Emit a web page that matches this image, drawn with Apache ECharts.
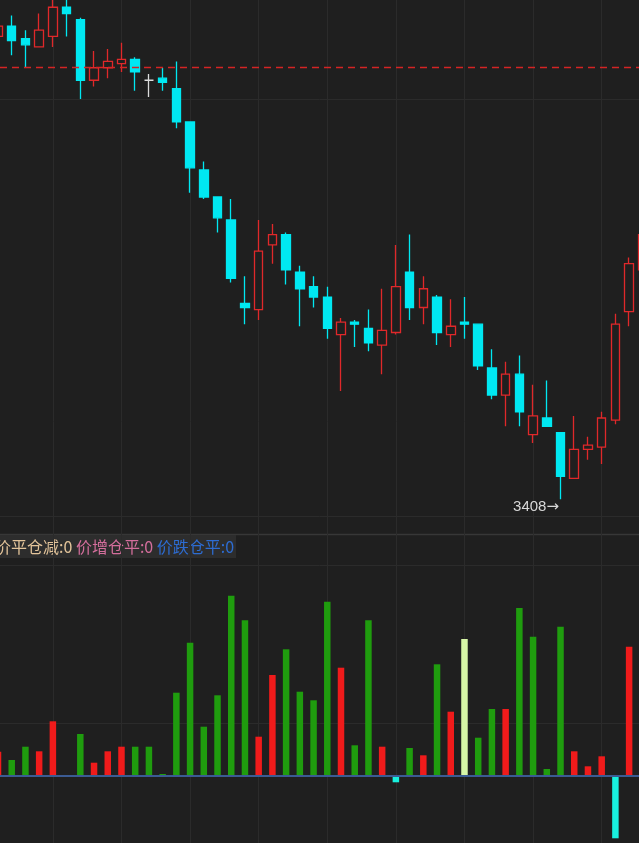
<!DOCTYPE html>
<html>
<head>
<meta charset="utf-8">
<script src="https://cdn.jsdelivr.net/npm/echarts@6/dist/echarts.min.js"></script>
<style>
html,body{margin:0;padding:0;background:#1f1f1f;}
#main{width:639px;height:843px;}
</style>
</head>
<body>
<div id="main"></div>
<script>
const categories = ['1','2','3','4','5','6','7','8','9','10','11','12','13','14','15','16','17','18','19','20','21','22','23','24','25','26','27','28','29','30','31','32','33','34','35','36','37','38','39','40','41','42','43','44','45','46','47','48'];
const opens  = [3630,3635,3629,3625,3630,3644,3638,3609,3615,3617,3619,3609,3610,3605,3589,3566,3553,3542,3502,3499,3530,3535,3517,3510,3505,3487,3493,3490,3482,3488,3517,3500,3505,3487,3493,3492,3471,3458,3468,3439,3447,3440,3418,3432,3433,3446,3498,3518];
const closes = [3635,3628,3626,3633,3644,3641,3609,3615,3618,3619,3613,3609,3608,3589,3567,3553,3543,3514,3500,3527,3535,3518,3509,3505,3490,3493,3492,3483,3489,3510,3500,3509,3488,3491,3492,3472,3458,3468,3450,3448,3443,3419,3432,3434,3447,3492,3521,3535];
const lows   = [3628,3621,3615,3625,3625,3630,3600,3606,3610,3613,3604,3601,3604,3586,3555,3552,3536,3512,3492,3494,3521,3511,3491,3500,3485,3460,3481,3479,3468,3487,3494,3492,3482,3481,3485,3470,3456,3443,3443,3435,3443,3408,3418,3427,3425,3444,3491,3512];
const highs  = [3638,3640,3633,3641,3650,3652,3639,3623,3624,3627,3620,3612,3615,3618,3589,3570,3553,3552,3515,3542,3540,3536,3520,3515,3510,3495,3494,3499,3509,3530,3535,3515,3506,3504,3505,3492,3480,3474,3477,3463,3465,3440,3448,3438,3450,3497,3524,3540];
const refPrice = 3615;
const oiValues = [243,160,293,247,547,0,420,133,247,293,293,293,20,833,1333,493,807,1803,1557,393,1010,1267,843,757,1743,1083,307,1557,293,-63,280,207,1117,643,1370,383,670,670,1680,1393,70,1493,247,97,197,-623,1293,0];
const oiColorKeys = ['r','g','g','r','r','g','g','r','r','r','g','g','g','g','g','g','g','g','g','r','r','g','g','g','g','r','g','g','r','c','g','r','g','r','y','g','g','r','g','g','g','g','r','r','r','c','r','r'];
const legendTexts = ['价平仓减:0','价增仓平:0','价跌仓平:0'];

// visible window of the index axis (view layout, not data)
const xMin = 1.146, xMax = 47.72;
const vLineFirst = 5, vLineLast = 45, vLineStep = 5;

const W = 639, H = 843;
const BG = '#1f1f1f';
const UP = '#e0282a';
const DOWN = '#00e8f2';
const DOJI = '#dcdcdc';
const REFLINE = '#d42424';
const barPalette = {r:'#f01b1b', g:'#1f9c0e', y:'#d6f5a6', c:'#18f0de'};
const GRIDLINE = '#2b2b2b';

const xs = categories.map(Number);
const candleData = opens.map((o, i) => {
  const item = {value: [xs[i], o, closes[i], lows[i], highs[i]]};
  if (o === closes[i]) {
    item.itemStyle = {color: DOJI, color0: DOJI, borderColor: DOJI, borderColor0: DOJI};
  }
  return item;
});
const minLow = Math.min(...lows);
const minIdx = lows.indexOf(minLow);
const barData = oiValues.map((v, i) => ({value: [xs[i], v], itemStyle: {color: barPalette[oiColorKeys[i]]}}));

const pxPerUnit = W / (xMax - xMin);
const vLeft = (vLineFirst - xMin) * pxPerUnit;
const vRight = W - (vLineLast - xMin) * pxPerUnit;

const hidden = {axisLine: {show: false}, axisTick: {show: false}, axisLabel: {show: false}, splitLine: {show: false}};

const chart = echarts.init(document.getElementById('main'), null, {renderer: 'canvas'});
chart.setOption({
  backgroundColor: BG,
  animation: false,
  grid: [
    {left: 0, right: 0, top: 0, bottom: 327},            // price
    {left: 0, right: 0, top: 565, bottom: 0},            // open-interest bars
    {left: vLeft, right: vRight, top: 0, bottom: 0},     // vertical grid lines
    {left: 0, right: 0, top: 99, bottom: 327},           // price horizontal grid lines
    {left: 0, right: 0, top: 565, bottom: 120}           // lower panel horizontal grid lines
  ],
  xAxis: [
    Object.assign({type: 'value', gridIndex: 0, min: xMin, max: xMax}, hidden),
    Object.assign({type: 'value', gridIndex: 1, min: xMin, max: xMax}, hidden),
    {type: 'value', gridIndex: 2, min: vLineFirst, max: vLineLast, interval: vLineStep,
     axisLine: {show: false}, axisTick: {show: false}, axisLabel: {show: false},
     splitLine: {show: true, lineStyle: {color: GRIDLINE, width: 1}}},
    Object.assign({type: 'value', gridIndex: 3, min: 0, max: 1}, hidden),
    Object.assign({type: 'value', gridIndex: 4, min: 0, max: 1}, hidden)
  ],
  yAxis: [
    Object.assign({type: 'value', gridIndex: 0, min: 3400, max: 3400 + 200 * 516 / 417}, hidden),
    Object.assign({type: 'value', gridIndex: 1, min: -670, max: 2110}, hidden),
    Object.assign({type: 'value', gridIndex: 2, min: 0, max: 1}, hidden),
    {type: 'value', gridIndex: 3, min: 0, max: 1, interval: 1,
     axisLine: {show: false}, axisTick: {show: false}, axisLabel: {show: false},
     splitLine: {show: true, lineStyle: {color: GRIDLINE, width: 1}}},
    {type: 'value', gridIndex: 4, min: 0, max: 1, interval: 1,
     axisLine: {show: false}, axisTick: {show: false}, axisLabel: {show: false},
     splitLine: {show: true, lineStyle: {color: GRIDLINE, width: 1}}}
  ],
  series: [
    {
      type: 'candlestick', xAxisIndex: 0, yAxisIndex: 0,
      barWidth: 9,
      dimensions: ['x', 'open', 'close', 'lowest', 'highest'],
      encode: {x: 0, y: [1, 2, 3, 4]},
      data: candleData,
      itemStyle: {color: BG, color0: DOWN, borderColor: UP, borderColor0: DOWN, borderWidth: 1.3},
      markLine: {
        silent: true, symbol: ['none', 'none'], label: {show: false},
        itemStyle: {color: REFLINE},
        lineStyle: {color: REFLINE, type: [7, 5], width: 1.3, opacity: 1},
        emphasis: {disabled: true},
        data: [{yAxis: refPrice, lineStyle: {color: REFLINE, type: [7, 5], width: 1.3, opacity: 1}}]
      },
      markPoint: {
        silent: true,
        symbol: 'circle', symbolSize: 1,
        itemStyle: {color: 'rgba(0,0,0,0)'},
        label: {show: true, position: 'left', distance: 1, offset: [0, 8],
                formatter: () => '{n|' + minLow + '}{a|→}',
                rich: {
                  n: {color: '#d8d8d8', fontSize: 15, fontFamily: 'Liberation Sans'},
                  a: {color: '#d8d8d8', fontSize: 15, fontFamily: 'DejaVu Sans'}
                }},
        data: [{coord: [xs[minIdx], minLow]}]
      }
    },
    {
      type: 'bar', xAxisIndex: 1, yAxisIndex: 1,
      barWidth: 6.5,
      data: barData,
      markLine: {
        silent: true, symbol: ['none', 'none'], label: {show: false},
        lineStyle: {color: '#3b5b93', type: 'solid', width: 2, opacity: 1},
        emphasis: {disabled: true},
        data: [{yAxis: 0}]
      }
    }
  ],
  graphic: [
    {type: 'line', shape: {x1: 0, y1: 534.5, x2: W, y2: 534.5}, style: {stroke: '#373737', lineWidth: 1.5}, silent: true},
    {type: 'rect', shape: {x: 0, y: 535, width: 236, height: 23}, style: {fill: '#2d2d2d'}, silent: true},
    {type: 'text', x: -5, y: 546.5, silent: true,
     style: {
       text: '{a|' + legendTexts[0] + '} {b|' + legendTexts[1] + '} {c|' + legendTexts[2] + '}',
       verticalAlign: 'middle',
       font: '16px "Noto Sans CJK SC"',
       rich: {
         a: {fill: '#e3c49a', fontSize: 16, fontFamily: 'Noto Sans CJK SC'},
         b: {fill: '#d46e9c', fontSize: 16, fontFamily: 'Noto Sans CJK SC'},
         c: {fill: '#2d6cd2', fontSize: 16, fontFamily: 'Noto Sans CJK SC'}
       }
     }}
  ]
});
</script>
</body>
</html>
